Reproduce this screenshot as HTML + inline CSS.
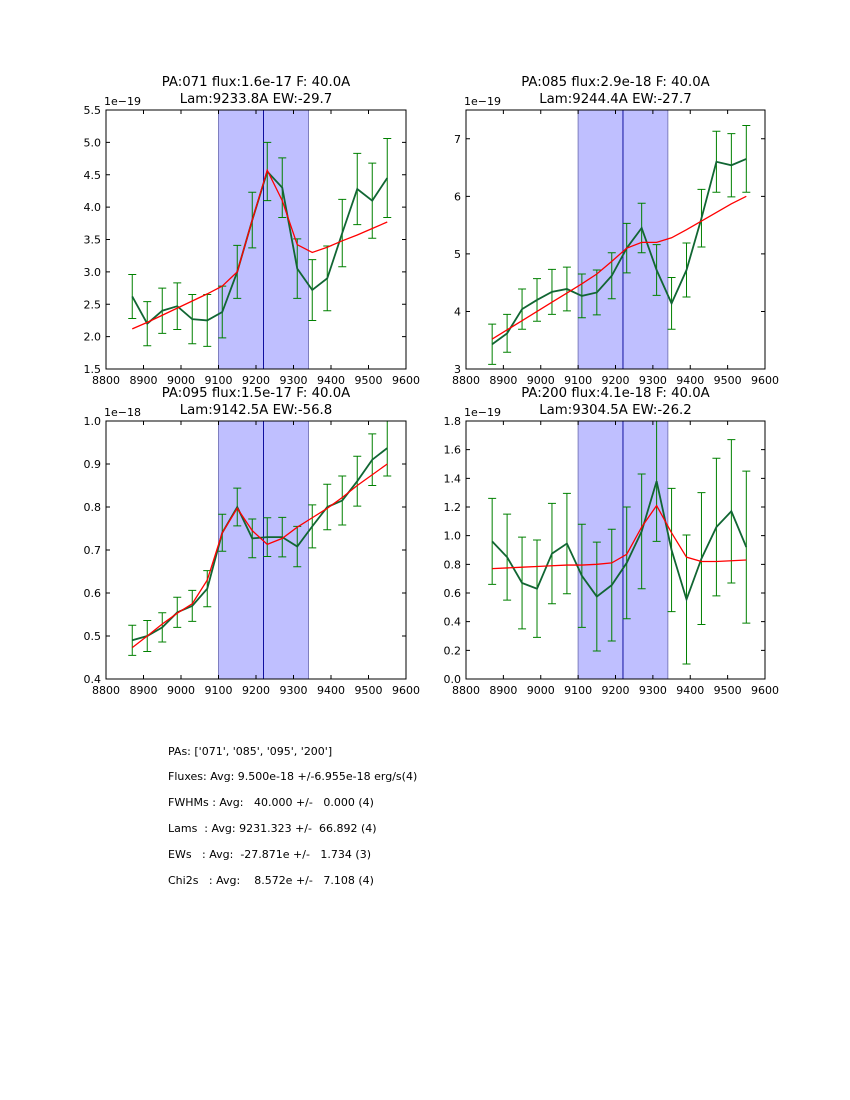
<!DOCTYPE html>
<html><head><meta charset="utf-8"><style>
body{margin:0;background:#fff;width:850px;height:1100px;overflow:hidden;font-family:"DejaVu Sans","Liberation Sans",sans-serif}
svg{position:absolute;left:0;top:0;font-family:"DejaVu Sans","Liberation Sans",sans-serif}
.info{position:absolute;left:168px;font-size:11px;color:#000;white-space:pre;font-family:"DejaVu Sans","Liberation Sans",sans-serif}
</style></head><body>
<svg id="chart" width="850" height="1100" xmlns="http://www.w3.org/2000/svg"></svg>
<div class="info" style="top:745px">PAs: ['071', '085', '095', '200']</div>
<div class="info" style="top:770px">Fluxes: Avg: 9.500e-18 +/-6.955e-18 erg/s(4)</div>
<div class="info" style="top:796px">FWHMs : Avg:   40.000 +/-   0.000 (4)</div>
<div class="info" style="top:822px">Lams  : Avg: 9231.323 +/-  66.892 (4)</div>
<div class="info" style="top:848px">EWs   : Avg:  -27.871e +/-   1.734 (3)</div>
<div class="info" style="top:874px">Chi2s   : Avg:    8.572e +/-   7.108 (4)</div>
<script>
const waves=[8870,8910,8950,8990,9030,9070,9110,9150,9190,9230,9270,9310,9350,9390,9430,9470,9510,9550];
const xTicks=[8800,8900,9000,9100,9200,9300,9400,9500,9600];
const titles1=["PA:071 flux:1.6e-17 F: 40.0A","PA:085 flux:2.9e-18 F: 40.0A","PA:095 flux:1.5e-17 F: 40.0A","PA:200 flux:4.1e-18 F: 40.0A"];
const titles2=["Lam:9233.8A EW:-29.7","Lam:9244.4A EW:-27.7","Lam:9142.5A EW:-56.8","Lam:9304.5A EW:-26.2"];
const scaleLabels=["1e\u221219","1e\u221219","1e\u221218","1e\u221219"];
const obs1=[2.62,2.2,2.4,2.47,2.27,2.25,2.38,3.0,3.8,4.55,4.3,3.05,2.72,2.9,3.6,4.28,4.1,4.45];
const err1=[0.34,0.34,0.35,0.36,0.38,0.4,0.4,0.41,0.43,0.45,0.46,0.46,0.47,0.5,0.52,0.55,0.58,0.61];
const fit1=[2.12,2.22,2.33,2.44,2.55,2.66,2.78,3.0,3.8,4.57,4.1,3.42,3.3,3.38,3.48,3.57,3.67,3.77];
const obs2=[3.43,3.62,4.04,4.2,4.34,4.39,4.27,4.33,4.62,5.1,5.45,4.72,4.14,4.72,5.62,6.6,6.54,6.65];
const err2=[0.35,0.33,0.35,0.37,0.39,0.38,0.38,0.39,0.4,0.43,0.43,0.44,0.45,0.47,0.5,0.53,0.55,0.58];
const fit2=[3.52,3.68,3.84,4.0,4.16,4.32,4.48,4.65,4.87,5.1,5.2,5.2,5.28,5.42,5.57,5.72,5.87,6.0];
const obs3=[0.49,0.5,0.52,0.555,0.57,0.61,0.74,0.8,0.727,0.73,0.73,0.708,0.755,0.8,0.815,0.86,0.91,0.937];
const err3=[0.035,0.036,0.034,0.035,0.036,0.042,0.043,0.044,0.045,0.045,0.046,0.047,0.05,0.053,0.057,0.058,0.06,0.065];
const fit3=[0.473,0.5,0.528,0.553,0.575,0.63,0.74,0.797,0.745,0.713,0.727,0.753,0.775,0.797,0.822,0.85,0.875,0.9];
const obs4=[0.96,0.85,0.67,0.63,0.875,0.945,0.72,0.575,0.655,0.81,1.03,1.38,0.9,0.555,0.84,1.06,1.17,0.92];
const err4=[0.3,0.3,0.32,0.34,0.35,0.35,0.36,0.38,0.39,0.39,0.4,0.42,0.43,0.45,0.46,0.48,0.5,0.53];
const fit4=[0.77,0.775,0.78,0.785,0.79,0.795,0.795,0.8,0.81,0.87,1.06,1.21,1.02,0.85,0.82,0.82,0.825,0.83];
const yTicks1=[1.5,2.0,2.5,3.0,3.5,4.0,4.5,5.0,5.5];
const yTicks2=[3,4,5,6,7];
const yTicks3=[0.4,0.5,0.6,0.7,0.8,0.9,1.0];
const yTicks4=[0.0,0.2,0.4,0.6,0.8,1.0,1.2,1.4,1.6,1.8];
const yLabels1=["1.5","2.0","2.5","3.0","3.5","4.0","4.5","5.0","5.5"];
const yLabels2=["3","4","5","6","7"];
const yLabels3=["0.4","0.5","0.6","0.7","0.8","0.9","1.0"];
const yLabels4=["0.0","0.2","0.4","0.6","0.8","1.0","1.2","1.4","1.6","1.8"];
const yRanges=[[1.5,5.5],[3,7.5],[0.4,1.0],[0,1.8]];
const bandLo=9100, bandHi=9340, lineCenter=9220;

const NS="http://www.w3.org/2000/svg";
const svg=document.getElementById('chart');
function mk(tag,attrs,parent){const e=document.createElementNS(NS,tag);for(const k in attrs)e.setAttribute(k,attrs[k]);(parent||svg).appendChild(e);return e;}
const boxes=[[106,110,406,369],[466,110,765,369],[106,421,406,679],[466,421,765,679]];
const obsAll=[obs1,obs2,obs3,obs4],errAll=[err1,err2,err3,err4],fitAll=[fit1,fit2,fit3,fit4];
const yTickAll=[yTicks1,yTicks2,yTicks3,yTicks4],yLabAll=[yLabels1,yLabels2,yLabels3,yLabels4];
for(let p=0;p<4;p++){
  const [L,T,R,B]=boxes[p];const [y0,y1]=yRanges[p];
  const xs=v=>L+(v-8800)/800*(R-L);
  const ys=v=>B-(v-y0)/(y1-y0)*(B-T);
  const g=mk('g',{});
  
  
  const band=mk('rect',{x:xs(bandLo),y:T,width:xs(bandHi)-xs(bandLo),height:B-T,fill:'#bfbfff',stroke:'#7f7fbf','stroke-width':1},g);
  
  
  const vl=mk('line',{x1:xs(lineCenter),x2:xs(lineCenter),y1:T,y2:B,stroke:'#1010a0','stroke-width':1},g);
  
  
  const ob=obsAll[p],er=errAll[p],ft=fitAll[p];
  for(let i=0;i<waves.length;i++){
    const x=xs(waves[i]),yb=ys(ob[i]-er[i]);
    const eb=mk('path',{d:`M${x},${ys(ob[i]+er[i])}V${yb}M${x-4},${ys(ob[i]+er[i])}H${x+4}M${x-4},${yb}H${x+4}`,stroke:'#008000','stroke-width':1,fill:'none'},g);
    
    
  }
  const ol=mk('polyline',{points:waves.map((w,i)=>xs(w)+','+ys(ob[i])).join(' '),fill:'none',stroke:'#116633','stroke-width':1.8},g);
  
  
  const fl=mk('polyline',{points:waves.map((w,i)=>xs(w)+','+ys(ft[i])).join(' '),fill:'none',stroke:'#ff0000','stroke-width':1.3},g);
  
  
  mk('rect',{x:L-2,y:T-30,width:R-L+4,height:29.5,fill:'#fff'},g);
  const fr=mk('rect',{x:L,y:T,width:R-L,height:B-T,fill:'none',stroke:'#000','stroke-width':1},g);
  
  
  xTicks.forEach(t=>{const x=xs(t);
    mk('path',{d:`M${x},${B}v-4M${x},${T}v4`,stroke:'#000','stroke-width':1},g);
    const tx=mk('text',{x:x,y:B+15,'text-anchor':'middle','font-size':11,fill:'#000'},g);tx.textContent=t;
    
    
  });
  yTickAll[p].forEach((t,i)=>{const y=ys(t);
    mk('path',{d:`M${L},${y}h4M${R},${y}h-4`,stroke:'#000','stroke-width':1},g);
    const tx=mk('text',{x:L-5,y:y+4,'text-anchor':'end','font-size':11,fill:'#000'},g);tx.textContent=yLabAll[p][i];
    
    
  });
  const sc=mk('text',{x:L-2,y:T-5,'font-size':11,fill:'#000'},g);sc.textContent=scaleLabels[p];
  
  
  const cx=(L+R)/2;
  const t1=mk('text',{x:cx,y:T-24,'text-anchor':'middle','font-size':13.3,fill:'#000'},g);t1.textContent=titles1[p];
  
  
  const t2=mk('text',{x:cx,y:T-7,'text-anchor':'middle','font-size':13.3,fill:'#000'},g);t2.textContent=titles2[p];
  
  
}
</script>
</body></html>
